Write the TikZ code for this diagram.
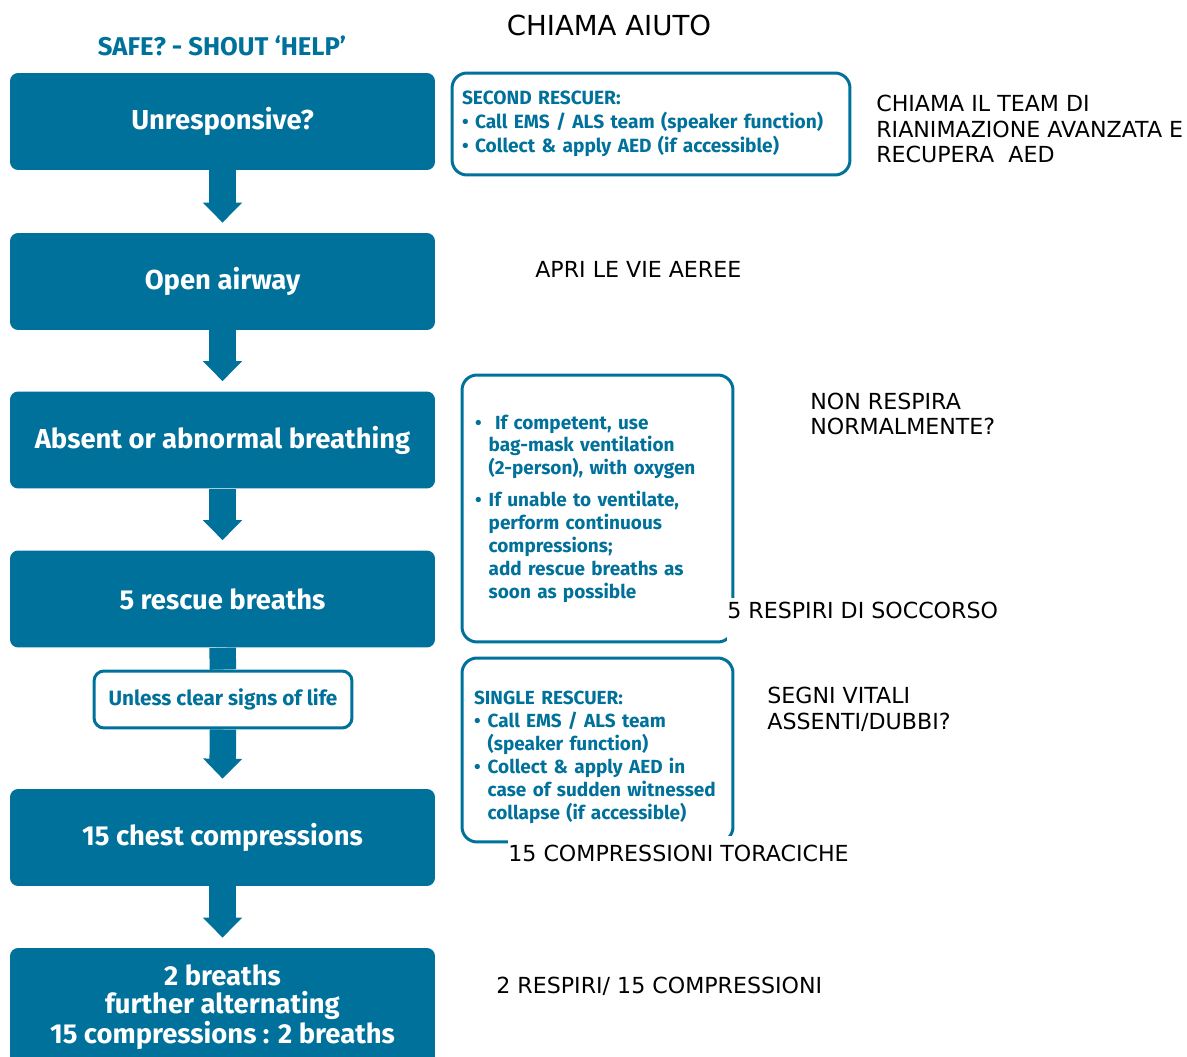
\documentclass[tikz,border=0pt]{standalone}
\usepackage{fontspec}
\setmainfont{DejaVu Sans}
\newfontfamily\cprfont{Fira Sans}
\usetikzlibrary{arrows.meta,positioning}
\definecolor{cprblue}{RGB}{0,113,154}
\hyphenpenalty=10000
\tikzset{main/.style={fill=cprblue, text=white, rounded corners=0.16cm, minimum width=8.5cm, minimum height=1.94cm, align=center, font=\cprfont\bfseries\fontsize{15.6}{15.6}\selectfont}}
\tikzset{side/.style={draw=cprblue, line width=0.06cm, fill=white, text=cprblue, rounded corners=0.3cm, align=left, font=\cprfont\bfseries\fontsize{10.8}{13}\selectfont}}
\tikzset{life/.style={draw=cprblue, line width=0.06cm, fill=white, text=cprblue, rounded corners=0.2cm, minimum width=5.16cm, minimum height=1.14cm, font=\cprfont\bfseries\fontsize{11.8}{12}\selectfont}}
\tikzset{note/.style={anchor=west, inner sep=0pt, align=left, font=\fontsize{12.6}{14.7}\selectfont}}
\tikzset{flow/.style={draw=cprblue, line width=0.53cm, -{Triangle[width=0.76cm, length=0.4cm]}}}
\newcommand{\bul}{\makebox[0.72em][l]{\textbullet}}
\newcommand{\ind}{\hspace*{0.72em}}

\begin{document}
\begin{tikzpicture}[x=0.02cm, y=-0.02cm]
  \useasboundingbox (0,0) rectangle (1187,1057);
  \node[note, anchor=center, font=\fontsize{15.7}{18}\selectfont] (title) at (609,25) {CHIAMA AIUTO};
  \node[text=cprblue, font=\cprfont\bfseries\fontsize{14.6}{16}\selectfont] (safe) at (222,46) {SAFE? - SHOUT ‘HELP’};

  % left column
  \node[main] (unresp) at (222.5,121.5) {Unresponsive?};
  \node[main] (airway) at (222.5,281.5) {Open airway};
  \node[main] (absent) at (222.5,440) {Absent or abnormal breathing};
  \node[main] (rescue) at (222.5,599) {5 rescue breaths};
  \node[life] (signs) at (223,699.5) {Unless clear signs of life};
  \node[main] (chest) at (222.5,837.5) {15 chest compressions};
  \node[main, minimum height=2.36cm] (alt) at (222.5,1007)
    {2 breaths\\further alternating\\15 compressions : 2 breaths};

  \draw[flow, -] (rescue.south) -- (signs.north);
  \foreach \a/\b in {unresp/airway, airway/absent, absent/rescue, signs/chest, chest/alt}
    \draw[flow] (\a.south) -- ([yshift=0.2cm]\b.north);

  % boxes on the right
  \node[side, minimum width=7.96cm, minimum height=2.04cm, text width=7.56cm, inner xsep=0.2cm, font=\cprfont\bfseries\fontsize{10.9}{13.6}\selectfont] (second) at (651,124)
    {SECOND RESCUER:\\\textbullet\ Call EMS / ALS team (speaker function)\\\textbullet\ Collect \& apply AED (if accessible)};
  \node[side, minimum width=5.42cm, minimum height=5.34cm, text width=4.9cm, inner xsep=0.26cm] (bagmask) at (597.5,508.5)
    {\bul\ If competent, use\\\ind bag-mask ventilation\\\ind (2-person), with oxygen\\[0.18cm]
     \bul If unable to ventilate,\\\ind perform continuous\\\ind compressions;\\\ind add rescue breaths as\\\ind soon as possible};
  \node[side, minimum width=5.42cm, minimum height=3.68cm, text width=4.94cm, inner xsep=0.24cm] (single) at (597.5,750)
    {\rule{0pt}{16pt}SINGLE RESCUER:\\\bul Call EMS / ALS team\\\ind (speaker function)\\\bul Collect \& apply AED in\\\ind case of sudden witnessed\\\ind collapse (if accessible)};

  % italian notes
  \node[note] (team) at (876,129) {CHIAMA IL TEAM DI\\RIANIMAZIONE AVANZATA E\\RECUPERA\ \ AED};
  \node[note] (apri) at (535,269) {APRI LE VIE AEREE};
  \node[note] (nonresp) at (810,414) {NON RESPIRA\\NORMALMENTE?};
  \node[note, anchor=base west, fill=white, text height=0.4cm, text depth=0.56cm] (cinque) at (727,618) {5 RESPIRI DI SOCCORSO};
  \node[note] (segni) at (767,709) {SEGNI VITALI\\ASSENTI/DUBBI?};
  \node[note, anchor=base west, fill=white, text height=0.5cm, text depth=0.1cm] (quindici) at (508,861) {15 COMPRESSIONI TORACICHE};
  \node[note] (due) at (496,986) {2 RESPIRI/ 15 COMPRESSIONI};
\end{tikzpicture}
\end{document}
